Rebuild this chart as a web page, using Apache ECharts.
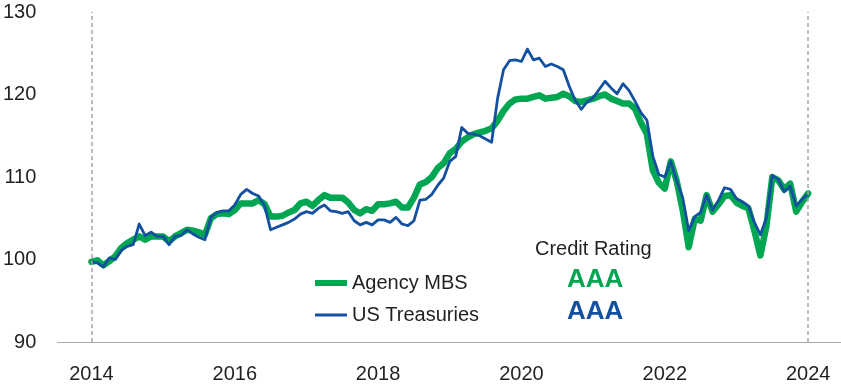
<!DOCTYPE html>
<html>
<head>
<meta charset="utf-8">
<script src="https://cdn.jsdelivr.net/npm/echarts@6/dist/echarts.min.js"></script>
<style>html,body{margin:0;padding:0;background:#fff}#c{width:841px;height:388px}</style>
</head>
<body>
<div id="c"></div>
<script>
// Monthly index values, Jan 2014 (index 0) .. Jan 2024 (index 120)
const seriesNames = ['Agency MBS', 'US Treasuries'];
const agencyMBS = [
  99.7, 99.9, 99.3, 99.8, 100.4, 101.4, 102.0, 102.4, 102.8, 102.4, 102.8, 102.8,
  102.8, 102.2, 102.8, 103.2, 103.6, 103.5, 103.3, 103.0, 105.0, 105.5, 105.6, 105.5,
  106.0, 106.8, 106.8, 106.8, 107.2, 106.7, 105.2, 105.2, 105.3, 105.7, 106.0, 106.8,
  107.0, 106.5, 107.2, 107.8, 107.5, 107.5, 107.5, 106.9, 106.0, 105.6, 106.1, 105.9,
  106.7, 106.7, 106.8, 107.0, 106.3, 106.3, 107.5, 109.1, 109.4, 110.0, 111.1, 111.7,
  112.9, 113.4, 114.3, 114.8, 115.2, 115.4, 115.6, 115.9, 116.8, 118.0, 118.9, 119.4,
  119.5, 119.5, 119.7, 119.9, 119.5, 119.6, 119.7, 120.1, 119.8, 119.2, 119.1, 119.3,
  119.5, 119.8, 120.0, 119.5, 119.2, 118.9, 118.9, 118.3, 116.6, 115.2, 110.8, 109.3,
  108.6, 111.9, 109.5, 106.0, 101.5, 104.9, 104.7, 107.8, 105.8, 106.7, 107.7, 107.8,
  106.9, 106.5, 106.2, 103.5, 100.5, 104.0, 110.0, 109.6, 108.5, 109.2, 105.8, 107.0,
  108.0
];
const usTreasuries = [
  99.7, 99.6, 99.1, 100.2, 100.0, 101.1, 101.6, 101.8, 104.3, 102.9, 103.3, 102.8,
  102.8, 101.8, 102.8, 102.9, 103.6, 103.1, 102.7, 102.4, 105.1, 105.7, 105.9, 105.9,
  106.6, 107.9, 108.5, 108.0, 107.7, 106.5, 103.6, 103.9, 104.2, 104.5, 104.9, 105.5,
  105.8, 105.6, 106.2, 106.6, 105.9, 105.8, 105.6, 105.8, 104.7, 104.2, 104.5, 104.2,
  104.8, 104.8, 104.5, 105.1, 104.3, 104.1, 104.7, 107.2, 107.3, 107.9, 109.0, 109.9,
  111.9, 112.5, 116.0, 115.3, 115.2, 115.0, 114.6, 114.2, 119.5, 123.0, 124.1, 124.2,
  124.0, 125.5, 124.2, 124.4, 123.4, 123.7, 123.4, 123.0, 121.0, 119.3, 118.2, 119.1,
  119.6, 120.6, 121.6, 120.8, 120.1, 121.3, 120.5, 119.2, 117.8, 116.9, 112.5, 110.3,
  110.0, 111.9, 109.5, 107.5, 103.5, 105.2, 105.7, 107.8, 106.0, 107.2, 108.7, 108.5,
  107.4, 107.0, 106.5, 104.5, 103.0, 105.0, 110.2, 109.7, 108.2, 108.9, 106.5, 107.3,
  108.0
];
const tickMonths = [0, 24, 48, 72, 96, 120];
const tickLabels = ['2014', '2016', '2018', '2020', '2022', '2024'];
const ratingTitle = 'Credit Rating';
const ratings = ['AAA', 'AAA'];

const GREEN = '#00a651';
const BLUE = '#1450a0';
const TEXT = '#231f20';
const FONT = '"Liberation Sans", Arial, sans-serif';

const chart = echarts.init(document.getElementById('c'), null, {renderer: 'canvas'});
const labelMap = {};
tickMonths.forEach((m, i) => labelMap[m] = tickLabels[i]);

chart.setOption({
  animation: false,
  textStyle: {fontFamily: FONT},
  grid: {left: 55, right: 0, top: 12, bottom: 46},
  xAxis: {
    type: 'value',
    min: -5.7,
    max: 125.5,
    axisLine: {show: true, lineStyle: {color: '#aaaaaa', width: 1}},
    axisTick: {show: false},
    splitLine: {show: false},
    axisLabel: {
      customValues: tickMonths,
      formatter: v => labelMap[v] || '',
      color: TEXT, fontSize: 20, margin: 22, fontFamily: FONT
    }
  },
  yAxis: {
    type: 'value',
    min: 90, max: 130, interval: 10,
    axisLine: {show: false},
    axisTick: {show: false},
    splitLine: {show: false},
    axisLabel: {color: TEXT, fontSize: 20, margin: 21, fontFamily: FONT}
  },
  legend: {
    orient: 'vertical',
    left: 310, top: 268,
    itemWidth: 32, itemHeight: 14, itemGap: 12,
    textStyle: {color: TEXT, fontSize: 20, fontFamily: FONT},
    data: [
      {name: seriesNames[0], icon: 'path://M0,5 L32,5 L32,11 L0,11 Z', itemStyle: {color: GREEN}},
      {name: seriesNames[1], icon: 'path://M0,6.5 L32,6.5 L32,9.5 L0,9.5 Z', itemStyle: {color: BLUE}}
    ]
  },
  graphic: [
    {type: 'text', left: 535, top: 239, style: {text: ratingTitle, fill: TEXT, font: '20px ' + FONT}},
    {type: 'text', left: 567, top: 267, style: {text: ratings[0], fill: GREEN, font: 'bold 26px ' + FONT}},
    {type: 'text', left: 567, top: 299, style: {text: ratings[1], fill: BLUE, font: 'bold 26px ' + FONT}}
  ],
  series: [
    {
      name: seriesNames[0], type: 'line', symbol: 'none', z: 2,
      data: agencyMBS.map((v, i) => [i, v]),
      lineStyle: {color: GREEN, width: 6.5, join: 'round', cap: 'round'},
      itemStyle: {color: GREEN}
    },
    {
      name: seriesNames[1], type: 'line', symbol: 'none', z: 3,
      data: usTreasuries.map((v, i) => [i, v]),
      lineStyle: {color: BLUE, width: 2.8, join: 'round'},
      itemStyle: {color: BLUE},
      markLine: {
        silent: true, symbol: 'none', animation: false,
        label: {show: false},
        lineStyle: {color: '#a6a6a6', type: [4, 3], width: 1.5},
        data: [{xAxis: tickMonths[0]}, {xAxis: tickMonths[tickMonths.length - 1]}]
      }
    }
  ]
});
</script>
</body>
</html>
